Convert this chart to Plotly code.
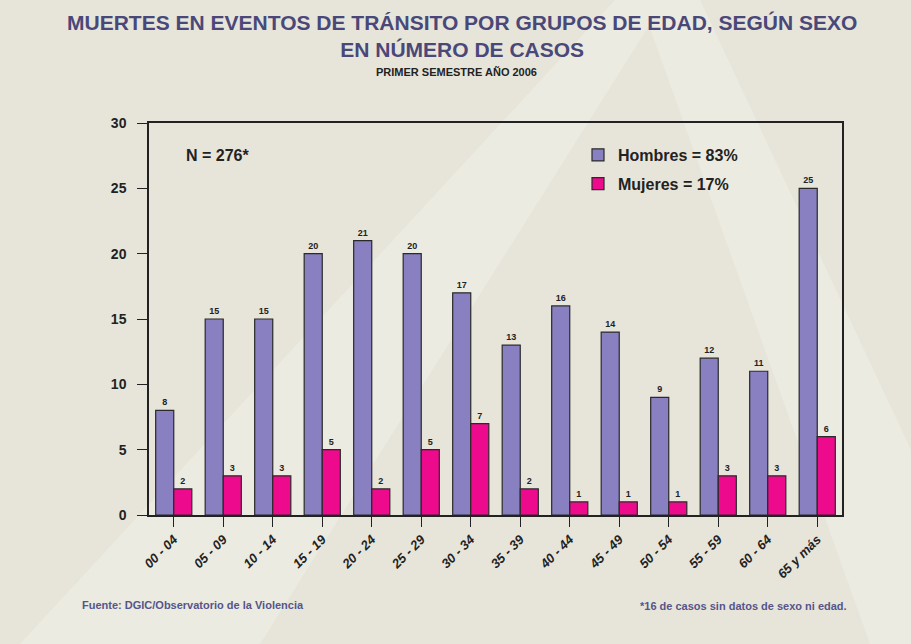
import plotly.graph_objects as go

categories = ["00 - 04", "05 - 09", "10 - 14", "15 - 19", "20 - 24", "25 - 29", "30 - 34",
              "35 - 39", "40 - 44", "45 - 49", "50 - 54", "55 - 59", "60 - 64", "65 y más"]
hombres = [8, 15, 15, 20, 21, 20, 17, 13, 16, 14, 9, 12, 11, 25]
mujeres = [2, 3, 3, 5, 2, 5, 7, 2, 1, 1, 1, 3, 3, 6]

FONT = "Liberation Sans, Arial, sans-serif"
BG = "#E7E5DA"
LIGHT = "#ECEBE1"
TITLE_C = "#4A4878"

# plot-area geometry in pixels (for converting placement of text)
L, R, T, B = 149, 842, 123, 515
W, H = R - L, B - T


def px(x):
    return (x - L) / W


def py(y):
    return (B - y) / H


def poly(pts):
    return "M " + " L ".join(f"{px(a):.4f} {py(b):.4f}" for a, b in pts) + " Z"


fig = go.Figure()
fig.add_trace(go.Bar(
    x=categories, y=hombres, name="<b>Hombres = 83%</b>", legendgroup="h",
    marker=dict(color="#8880C0", line=dict(color="#2A2A2A", width=1.2)),
    texttemplate="<b>%{y}</b>", textposition="outside", cliponaxis=False,
    textfont=dict(size=9, color="#222", family=FONT),
))
fig.add_trace(go.Bar(
    x=categories, y=mujeres, name="<b>Mujeres = 17%</b>", legendgroup="m",
    marker=dict(color="#EE0A8C", line=dict(color="#2A2A2A", width=1.2)),
    texttemplate="<b>%{y}</b>", textposition="outside", cliponaxis=False,
    textfont=dict(size=9, color="#222", family=FONT),
))

# faint decorative background "A"
fig.add_shape(type="path", xref="paper", yref="paper",
              path=poly([(615, 0), (665, 0), (260, 644), (20, 644)]),
              fillcolor=LIGHT, line=dict(width=0), layer="below")
fig.add_shape(type="path", xref="paper", yref="paper",
              path=poly([(640, 0), (700, 0), (911, 450), (911, 644), (870, 644)]),
              fillcolor=LIGHT, line=dict(width=0), layer="below")

fig.update_layout(
    width=911, height=644,
    paper_bgcolor=BG, plot_bgcolor="rgba(0,0,0,0)",
    margin=dict(l=L, r=911 - R, t=T, b=644 - B),
    barmode="group", bargap=0.27, bargroupgap=0,
    font=dict(family=FONT, color="#222"),
    showlegend=True,
    legend=dict(x=px(578), y=py(138), xanchor="left", yanchor="top",
                bgcolor="rgba(0,0,0,0)", font=dict(size=16, color="#222"),
                itemwidth=30, tracegroupgap=5),
    xaxis=dict(showline=True, linecolor="#222", linewidth=1.5, mirror=True,
               ticks="outside", ticklen=10, tickcolor="#222", tickangle=-45,
               tickfont=dict(size=13, color="#222", family=FONT, style="italic", weight="bold"),
               showgrid=False),
    yaxis=dict(range=[0, 30], dtick=5, showline=True, linecolor="#222", linewidth=1.5, mirror=True,
               ticks="outside", ticklen=10, tickcolor="#222", ticklabelstandoff=8,
               tickfont=dict(size=14, color="#222", family=FONT, weight="bold"),
               showgrid=False, zeroline=False),
    annotations=[
        dict(text="MUERTES EN EVENTOS DE TRÁNSITO POR GRUPOS DE EDAD, SEGÚN SEXO<br>EN NÚMERO DE CASOS",
             xref="paper", yref="paper", x=px(462), y=py(9), xanchor="center", yanchor="top",
             showarrow=False, font=dict(size=21, color=TITLE_C, family=FONT, weight="bold")),
        dict(text="<b>PRIMER SEMESTRE AÑO 2006</b>", xref="paper", yref="paper",
             x=px(456), y=py(72), xanchor="center", yanchor="middle", showarrow=False,
             font=dict(size=11, color="#222", family=FONT)),
        dict(text="N = 276*", xref="paper", yref="paper", x=px(184), y=py(155),
             xanchor="left", yanchor="middle", showarrow=False,
             font=dict(size=16, color="#222", family=FONT, weight="bold")),
        dict(text="<b>Fuente: DGIC/Observatorio de la Violencia</b>", xref="paper", yref="paper",
             x=px(80), y=py(605), xanchor="left", yanchor="middle", showarrow=False,
             font=dict(size=11, color="#55558A", family=FONT)),
        dict(text="<b>*16 de casos sin datos de sexo ni edad.</b>", xref="paper", yref="paper",
             x=px(849), y=py(606), xanchor="right", yanchor="middle", showarrow=False,
             font=dict(size=11, color="#55558A", family=FONT)),
    ],
)

fig.write_html("out.html", config={"displayModeBar": False},
               post_script="document.body.style.margin='0px';")
